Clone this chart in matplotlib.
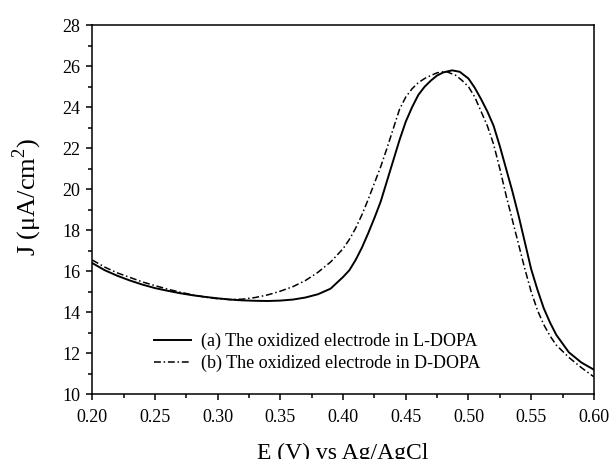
import numpy as np
import matplotlib.pyplot as plt
from matplotlib.ticker import MultipleLocator

plt.rcParams['font.family'] = ['Liberation Serif', 'DejaVu Serif']
plt.rcParams['mathtext.fontset'] = 'custom'
plt.rcParams['mathtext.rm'] = 'Liberation Serif'

# potential (V) and current density readings
e_l = [0.20, 0.21, 0.22, 0.23, 0.24, 0.25, 0.26, 0.27, 0.28, 0.29, 0.30,
       0.31, 0.32, 0.33, 0.34, 0.35, 0.36, 0.37, 0.38, 0.39, 0.40, 0.405,
       0.41, 0.415, 0.42, 0.425, 0.43, 0.435, 0.44, 0.445, 0.45, 0.455, 0.46,
       0.465, 0.47, 0.475, 0.48, 0.487, 0.493, 0.50, 0.505, 0.51, 0.515, 0.52,
       0.525, 0.53, 0.535, 0.54, 0.545, 0.55, 0.555, 0.56, 0.565, 0.57, 0.58,
       0.59, 0.60]
j_l = [16.40, 16.05, 15.78, 15.55, 15.35, 15.18, 15.05, 14.93, 14.83, 14.75, 14.68,
       14.62, 14.58, 14.56, 14.55, 14.57, 14.62, 14.72, 14.88, 15.15, 15.72, 16.05,
       16.55, 17.15, 17.85, 18.60, 19.40, 20.40, 21.40, 22.40, 23.30, 24.00, 24.60,
       25.00, 25.30, 25.55, 25.70, 25.80, 25.73, 25.40, 24.95, 24.40, 23.80, 23.10,
       22.10, 21.00, 19.90, 18.70, 17.40, 16.10, 15.10, 14.20, 13.50, 12.90, 12.05,
       11.55, 11.20]

e_d = [0.20, 0.21, 0.22, 0.23, 0.24, 0.25, 0.26, 0.27, 0.28, 0.29, 0.30,
       0.31, 0.32, 0.33, 0.34, 0.35, 0.36, 0.37, 0.38, 0.39, 0.40, 0.405,
       0.41, 0.415, 0.42, 0.425, 0.43, 0.435, 0.44, 0.445, 0.45, 0.455, 0.46,
       0.465, 0.47, 0.475, 0.482, 0.49, 0.495, 0.50, 0.505, 0.51, 0.515, 0.52,
       0.525, 0.53, 0.535, 0.54, 0.545, 0.55, 0.555, 0.56, 0.565, 0.57, 0.58,
       0.59, 0.60]
j_d = [16.55, 16.20, 15.92, 15.70, 15.48, 15.30, 15.13, 14.98, 14.85, 14.74, 14.66,
       14.62, 14.64, 14.72, 14.85, 15.03, 15.25, 15.55, 15.95, 16.45, 17.10, 17.55,
       18.10, 18.75, 19.50, 20.30, 21.10, 22.00, 22.95, 23.90, 24.50, 24.90, 25.20,
       25.40, 25.55, 25.68, 25.75, 25.55, 25.30, 25.00, 24.50, 23.80, 23.10, 22.20,
       21.00, 19.70, 18.50, 17.30, 16.10, 15.00, 14.10, 13.40, 12.85, 12.40, 11.80,
       11.30, 10.85]

fig = plt.figure(figsize=(6.11, 4.59), dpi=100)
ax = fig.add_axes([0.151, 0.141, 0.821, 0.804])

ax.plot(e_l, j_l, color='black', lw=1.4, label='(a) The oxidized electrode in L-DOPA')
ax.plot(e_d, j_d, color='black', lw=1.1, linestyle=(0, (4.5, 1.8, 1, 1.8)),
        label='(b) The oxidized electrode in D-DOPA')

ax.set_xlim(0.20, 0.60)
ax.set_ylim(10, 28)
ax.xaxis.set_major_locator(MultipleLocator(0.05))
ax.xaxis.set_minor_locator(MultipleLocator(0.025))
ax.yaxis.set_major_locator(MultipleLocator(2))
ax.yaxis.set_minor_locator(MultipleLocator(1))
ax.xaxis.set_major_formatter(plt.FormatStrFormatter('%.2f'))
ax.tick_params(which='major', direction='out', length=4.5, width=1.1, labelsize=13)
ax.tick_params(axis='x', which='major', pad=6)
ax.tick_params(axis='y', which='major', pad=4)
ax.tick_params(which='minor', direction='out', length=3, width=1.1)
ax.tick_params(top=False, right=False, which='both')
for s in ax.spines.values():
    s.set_linewidth(1.1)

ax.set_xlabel('E (V) vs Ag/AgCl', fontsize=17, labelpad=12)
ax.set_ylabel('J (μA/cm$^{2}$)', fontsize=19)
ax.yaxis.set_label_coords(-0.097, 0.535)

ax.legend(loc='lower left', bbox_to_anchor=(0.106, 0.036), frameon=False,
          fontsize=13, handlelength=2.0, handletextpad=0.6, borderpad=0,
          labelspacing=0.25)

fig.savefig('out.png', dpi=100)
